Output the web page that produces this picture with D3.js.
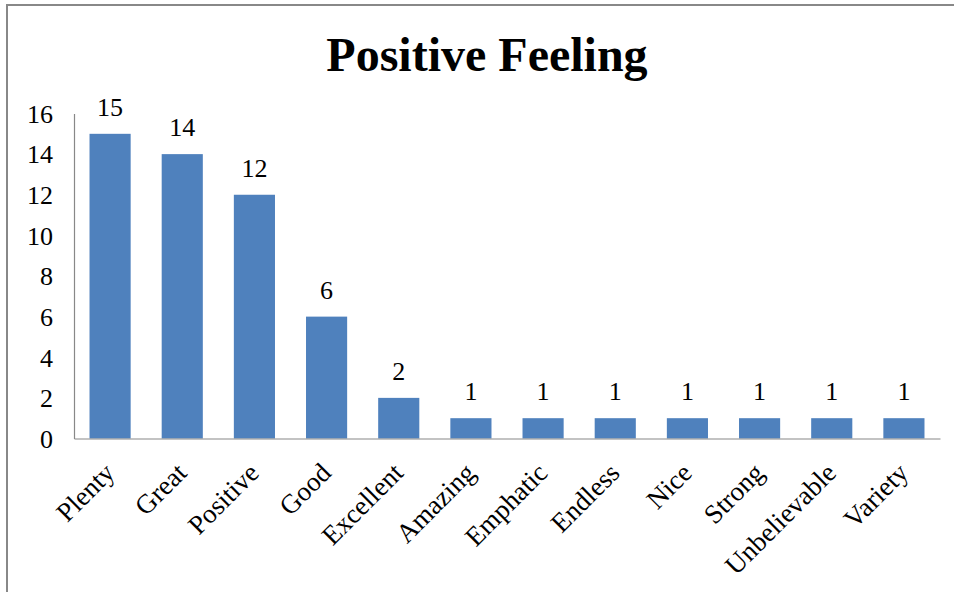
<!DOCTYPE html>
<html><head><meta charset="utf-8">
<script src="https://cdn.jsdelivr.net/npm/d3@7"></script>
<style>body{margin:0;background:#fff}svg{display:block}</style>
</head><body>
<script>
const categories = ["Plenty","Great","Positive","Good","Excellent","Amazing","Emphatic","Endless","Nice","Strong","Unbelievable","Variety"];
const values = [15,14,12,6,2,1,1,1,1,1,1,1];
const yTicks = [0,2,4,6,8,10,12,14,16];
const title = "Positive Feeling";

const W = 954, H = 592;
const svg = d3.select("body").append("svg").attr("width", W).attr("height", H);
const font = "'Liberation Serif','Times New Roman',serif";

// outer frame
svg.append("line").attr("x1",7).attr("x2",7).attr("y1",4).attr("y2",H).attr("stroke","#888").attr("stroke-width",2);
svg.append("line").attr("x1",6).attr("x2",W).attr("y1",5).attr("y2",5).attr("stroke","#888").attr("stroke-width",2);

const x = d3.scaleBand().domain(categories).range([74, 940]).paddingInner(0.43).paddingOuter(0.215);
const y = d3.scaleLinear().domain([0,16]).range([438.5, 113.5]);

svg.append("text").attr("x", 487).attr("y", 71).attr("text-anchor","middle")
  .attr("font-family", font).attr("font-weight","bold").attr("font-size", 48).attr("fill","#000").text(title);

// y axis
const ya = svg.append("g").attr("transform","translate(74,0)")
  .call(d3.axisLeft(y).tickValues(yTicks).tickSize(0).tickPadding(21).tickFormat(d3.format("d")));
ya.attr("font-family", font);
ya.select(".domain").attr("stroke","#888").attr("stroke-width",1.2);
ya.selectAll("text").attr("font-family", font).attr("font-size", 26).attr("fill","#000").attr("dy","0.34em");

// bars
svg.append("g").selectAll("rect").data(values).join("rect")
  .attr("x", (d,i)=>x(categories[i])).attr("width", x.bandwidth())
  .attr("y", d=>y(d)).attr("height", d=>y(0)-y(d)).attr("fill","#4F81BD");

// x axis
const xa = svg.append("g").attr("transform","translate(0,438.5)")
  .call(d3.axisBottom(x).tickSize(0).tickSizeOuter(0));
xa.attr("font-family", font);
xa.select(".domain").attr("stroke","#888").attr("stroke-width",1.2);
xa.selectAll("text").attr("font-family", font).attr("font-size", 27).attr("fill","#000")
  .attr("text-anchor","end").attr("dy",0).attr("y",0)
  .attr("transform","translate(6,36) rotate(-45)");

// value labels
svg.append("g").selectAll("text").data(values).join("text")
  .attr("x",(d,i)=>x(categories[i])+x.bandwidth()/2).attr("y", d=>y(d)-18)
  .attr("text-anchor","middle").attr("font-family", font).attr("font-size", 26).attr("fill","#000")
  .text(d=>d);
</script>
</body></html>
